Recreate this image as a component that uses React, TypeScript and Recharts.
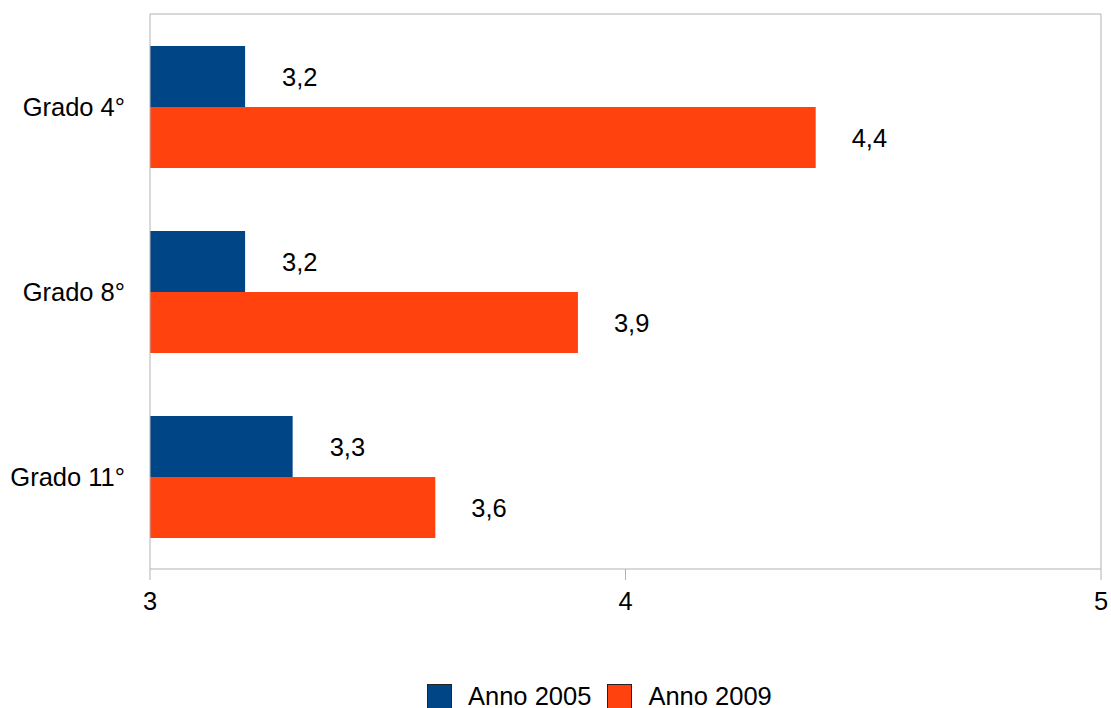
import { BarChart, Bar, XAxis, YAxis, LabelList, ReferenceLine, Legend } from "recharts";

const categories = ["Grado 4°", "Grado 8°", "Grado 11°"];
const anno2005 = [3.2, 3.2, 3.3];
const anno2009 = [4.4, 3.9, 3.6];
const seriesNames = ["Anno 2005", "Anno 2009"];
const xTicks = [3, 4, 5];
// category boundaries, used only for the small tick marks on the left axis
const bandEdges = [0, 1, 2, 3];

const COLORS = ["#004586", "#ff420e"];
const AXIS = "#b3b3b3";
const FONT = '"Liberation Sans", Arial, sans-serif';

const data = categories.map((name, i) => ({
  name,
  a2005: anno2005[i],
  a2009: anno2009[i],
}));

const fmt = (v: any) => String(v).replace(".", ",");

function LegendBox() {
  return (
    <div style={{ display: "flex", alignItems: "center", height: 40, paddingTop: 16, boxSizing: "border-box", marginLeft: 427, fontFamily: FONT, fontSize: 25.5, color: "#000" }}>
      {seriesNames.map((n, i) => (
        <div key={n} style={{ display: "flex", alignItems: "center", marginRight: 16 }}>
          <span style={{ width: 23, height: 23, background: COLORS[i], border: "1px solid #222", display: "inline-block" }} />
          <span style={{ marginLeft: 16, lineHeight: "24px" }}>{n}</span>
        </div>
      ))}
    </div>
  );
}

export default function App() {
  return (
    <div style={{ position: "absolute", left: 0, top: 0, background: "#fff" }}>
      <BarChart
        width={1111}
        height={708}
        data={data}
        layout="vertical"
        margin={{ top: 14, right: 10, left: 0, bottom: 0 }}
        barGap={0}
        style={{ fontFamily: FONT }}
      >
        <YAxis
          yAxisId="a_edges"
          type="number"
          domain={[0, 3]}
          allowDataOverflow
          ticks={bandEdges}
          width={1}
          tick={false}
          tickSize={12}
          axisLine={{ stroke: AXIS }}
          tickLine={{ stroke: AXIS }}
        />
        <YAxis
          yAxisId="b_cat"
          type="category"
          dataKey="name"
          width={149}
          axisLine={false}
          tickLine={false}
          tickSize={12}
          tickMargin={12}
          tick={{ fill: "#000", fontSize: 25.5 }}
        />
        <XAxis
          type="number"
          domain={[3, 5]}
          ticks={xTicks}
          height={99}
          tickSize={11}
          tickMargin={12}
          axisLine={{ stroke: AXIS }}
          tickLine={{ stroke: AXIS }}
          tick={{ fill: "#000", fontSize: 25.5 }}
        />
        <ReferenceLine yAxisId="a_edges" y={0} stroke={AXIS} ifOverflow="visible" />
        <ReferenceLine yAxisId="a_edges" y={3} stroke={AXIS} ifOverflow="visible" />
        <ReferenceLine yAxisId="a_edges" x={5} stroke={AXIS} ifOverflow="visible" />
        <Legend verticalAlign="bottom" height={40} content={() => <LegendBox />} wrapperStyle={{ left: 0, width: 1111 }} />
        <Bar yAxisId="b_cat" dataKey="a2005" name={seriesNames[0]} fill={COLORS[0]} barSize={61} isAnimationActive={false}>
          <LabelList dataKey="a2005" position="right" offset={37} formatter={fmt} fill="#000" fontSize={25.5} />
        </Bar>
        <Bar yAxisId="b_cat" dataKey="a2009" name={seriesNames[1]} fill={COLORS[1]} barSize={61} isAnimationActive={false}>
          <LabelList dataKey="a2009" position="right" offset={36} formatter={fmt} fill="#000" fontSize={25.5} />
        </Bar>
      </BarChart>
    </div>
  );
}
